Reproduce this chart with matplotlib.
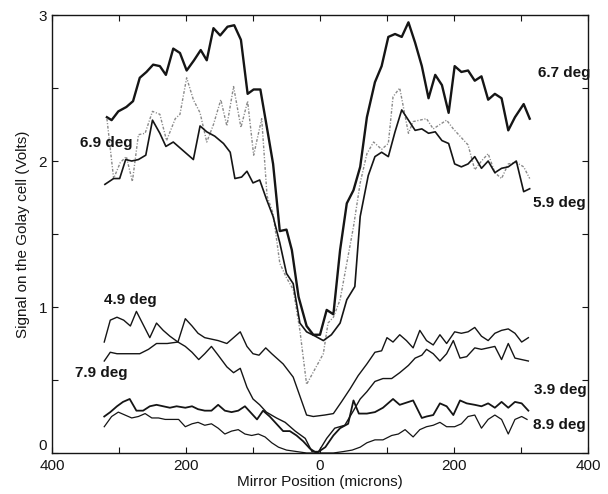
import matplotlib
matplotlib.use("Agg")
import matplotlib.pyplot as plt

plt.rcParams['font.family'] = ['Liberation Sans', 'DejaVu Sans']

# 6.7 deg (thick solid, top)
x_67 = [-318, -311, -301, -289, -279, -269, -259, -249, -239, -230, -219, -209, -199, -188,
        -178, -169, -159, -149, -138, -128, -118, -108, -99, -89, -77, -70, -60, -50, -42,
        -32, -20, -10, 0, 10, 20, 30, 40, 50, 60, 70, 82, 92, 102, 112, 122, 132, 142, 152,
        162, 172, 182, 192, 201, 211, 221, 231, 241, 251, 261, 271, 281, 291, 304, 313]
y_67 = [2.30, 2.28, 2.34, 2.37, 2.41, 2.57, 2.61, 2.66, 2.65, 2.59, 2.77, 2.74, 2.62, 2.69,
        2.76, 2.69, 2.91, 2.86, 2.92, 2.93, 2.83, 2.46, 2.49, 2.49, 2.17, 1.98, 1.52, 1.53, 1.39,
        1.07, 0.87, 0.81, 0.81, 0.98, 0.95, 1.39, 1.71, 1.80, 1.96, 2.30, 2.54, 2.65, 2.85, 2.87,
        2.85, 2.95, 2.81, 2.65, 2.43, 2.59, 2.52, 2.33, 2.65, 2.61, 2.62, 2.55, 2.58, 2.42, 2.46,
        2.43, 2.21, 2.30, 2.39, 2.29]

# 6.9 deg (grey dotted)
x_69 = [-318, -308, -298, -289, -280, -271, -261, -250, -239, -229, -216, -209, -199, -189,
        -179, -169, -159, -148, -139, -129, -118, -108, -99, -87, -79, -70, -60, -50, -40,
        -30, -20, 5, 12, 20, 30, 40, 50, 60, 70, 80, 92, 102, 109, 119, 132, 139, 149, 159,
        169, 179, 189, 199, 209, 221, 231, 241, 251, 261, 271, 281, 293, 304, 313]
y_69 = [2.29, 1.88, 1.99, 2.03, 1.86, 2.18, 2.19, 2.34, 2.32, 2.14, 2.29, 2.32, 2.57, 2.42,
        2.33, 2.13, 2.25, 2.42, 2.24, 2.51, 2.23, 2.41, 2.04, 2.29, 1.76, 1.64, 1.30, 1.20, 1.12,
        0.84, 0.47, 0.68, 0.89, 0.93, 1.05, 1.30, 1.55, 1.85, 2.05, 2.13, 2.08, 2.12, 2.44, 2.50,
        2.19, 2.27, 2.28, 2.29, 2.22, 2.25, 2.28, 2.22, 2.17, 2.11, 1.94, 2.00, 2.05, 1.92, 1.88,
        1.98, 1.99, 1.96, 1.88]

# 5.9 deg
x_59 = [-321, -308, -299, -290, -281, -271, -260, -250, -239, -230, -219, -209, -199, -189,
        -179, -169, -157, -144, -134, -127, -117, -109, -100, -90, -80, -70, -60, -50, -40,
        -30, -20, -7, 5, 17, 30, 40, 52, 60, 72, 82, 92, 102, 112, 122, 132, 142, 152, 162,
        172, 182, 192, 201, 211, 221, 231, 241, 251, 261, 271, 281, 293, 304, 313]
y_59 = [1.84, 1.88, 1.88, 2.01, 2.00, 2.01, 2.04, 2.28, 2.19, 2.10, 2.13, 2.09, 2.05, 2.01,
        2.24, 2.20, 2.17, 2.12, 2.06, 1.88, 1.89, 1.93, 1.85, 1.87, 1.74, 1.62, 1.44, 1.23, 1.16,
        0.89, 0.83, 0.80, 0.77, 0.81, 0.89, 1.05, 1.14, 1.62, 1.90, 2.03, 2.06, 2.03, 2.20, 2.35,
        2.28, 2.21, 2.22, 2.19, 2.20, 2.14, 2.12, 1.98, 1.96, 1.98, 2.03, 1.95, 2.00, 1.92, 1.95,
        1.96, 2.00, 1.79, 1.81]

# 4.9 deg
x_49 = [-322, -313, -303, -293, -283, -274, -264, -254, -244, -234, -224, -212, -201, -191,
        -182, -172, -162, -152, -139, -129, -119, -109, -100, -91, -81, -72, -55, -40, -30,
        -20, -10, 7, 20, 32, 45, 57, 70, 82, 92, 100, 109, 119, 129, 139, 149, 159, 169, 179,
        189, 201, 211, 221, 231, 241, 251, 261, 271, 281, 291, 301, 311]
y_49 = [0.76, 0.91, 0.93, 0.91, 0.87, 0.97, 0.88, 0.79, 0.89, 0.84, 0.80, 0.76, 0.92, 0.87,
        0.82, 0.79, 0.78, 0.77, 0.75, 0.79, 0.83, 0.73, 0.68, 0.67, 0.72, 0.68, 0.61, 0.52, 0.39,
        0.26, 0.25, 0.26, 0.27, 0.35, 0.44, 0.53, 0.61, 0.69, 0.70, 0.79, 0.76, 0.81, 0.77, 0.72,
        0.84, 0.77, 0.74, 0.81, 0.75, 0.83, 0.82, 0.83, 0.86, 0.80, 0.77, 0.82, 0.84, 0.85, 0.82,
        0.76, 0.79]

# 7.9 deg
x_79 = [-322, -313, -303, -290, -280, -269, -256, -244, -228, -212, -201, -191, -181, -172,
        -162, -152, -139, -129, -119, -109, -100, -90, -80, -65, -52, -37, -22, -12, -2, 10,
        22, 37, 50, 60, 70, 82, 94, 107, 119, 132, 142, 152, 159, 169, 179, 189, 199, 209,
        219, 231, 241, 251, 261, 271, 281, 291, 301, 311]
y_79 = [0.63, 0.69, 0.68, 0.68, 0.68, 0.68, 0.71, 0.75, 0.75, 0.76, 0.73, 0.69, 0.64, 0.68,
        0.73, 0.67, 0.59, 0.55, 0.58, 0.45, 0.37, 0.33, 0.28, 0.24, 0.21, 0.15, 0.10, 0.01, 0.01,
        0.10, 0.17, 0.19, 0.29, 0.37, 0.42, 0.49, 0.51, 0.51, 0.55, 0.60, 0.65, 0.67, 0.71, 0.68,
        0.63, 0.68, 0.77, 0.65, 0.66, 0.72, 0.71, 0.72, 0.73, 0.64, 0.75, 0.65, 0.64, 0.63]

# 3.9 deg
x_39 = [-322, -313, -303, -294, -284, -274, -264, -254, -244, -234, -224, -214, -201, -191,
        -182, -172, -162, -152, -142, -132, -122, -112, -102, -94, -85, -75, -65, -55, -45,
        -35, -25, -15, -5, 8, 20, 30, 42, 50, 58, 70, 82, 94, 109, 119, 139, 152, 159, 169,
        179, 189, 199, 209, 219, 231, 241, 251, 261, 271, 281, 291, 301, 311]
y_39 = [0.25, 0.28, 0.32, 0.35, 0.37, 0.29, 0.29, 0.32, 0.33, 0.32, 0.31, 0.32, 0.31, 0.32,
        0.30, 0.29, 0.29, 0.33, 0.29, 0.28, 0.29, 0.32, 0.27, 0.23, 0.29, 0.25, 0.20, 0.15, 0.15,
        0.12, 0.08, 0.03, 0.00, 0.04, 0.12, 0.17, 0.20, 0.36, 0.27, 0.27, 0.28, 0.31, 0.37, 0.33,
        0.36, 0.24, 0.25, 0.26, 0.34, 0.32, 0.26, 0.36, 0.34, 0.33, 0.32, 0.34, 0.31, 0.35, 0.31,
        0.35, 0.34, 0.29]

# 8.9 deg
x_89 = [-322, -311, -301, -291, -281, -271, -261, -251, -241, -231, -221, -211, -201, -191,
        -182, -172, -162, -152, -142, -132, -122, -112, -102, -92, -82, -72, -62, -50, -35,
        -20, 0, 20, 35, 48, 60, 70, 82, 94, 107, 117, 127, 139, 149, 159, 169, 179, 189, 201,
        211, 221, 231, 241, 251, 261, 271, 281, 291, 301, 309]
y_89 = [0.18, 0.25, 0.28, 0.26, 0.24, 0.25, 0.27, 0.24, 0.24, 0.23, 0.23, 0.23, 0.18, 0.20,
        0.21, 0.19, 0.20, 0.17, 0.13, 0.15, 0.16, 0.13, 0.12, 0.13, 0.11, 0.07, 0.04, 0.02, 0.01,
        0.00, 0.00, 0.00, 0.01, 0.02, 0.04, 0.07, 0.09, 0.09, 0.12, 0.13, 0.16, 0.11, 0.16, 0.18,
        0.19, 0.21, 0.18, 0.18, 0.20, 0.25, 0.26, 0.17, 0.23, 0.26, 0.23, 0.13, 0.23, 0.25, 0.23]

fig = plt.figure(figsize=(6.08, 4.94), dpi=100)
ax = fig.add_axes([0.0855, 0.083, 0.8816, 0.8866])

ink = '#151515'
ax.plot(x_67, y_67, color=ink, lw=1.7)
ax.plot(x_69, y_69, color='#8a8a8a', lw=1.0, ls=(0, (2, 1.2, 0.8, 1.2)))
ax.plot(x_59, y_59, color=ink, lw=1.2)
ax.plot(x_49, y_49, color=ink, lw=1.0)
ax.plot(x_79, y_79, color=ink, lw=1.0)
ax.plot(x_39, y_39, color=ink, lw=1.3)
ax.plot(x_89, y_89, color=ink, lw=0.9)

lbl = dict(fontsize=11, fontweight='bold', color=ink, va='center')
ax.text(325, 2.60, '6.7 deg', ha='left', **lbl)
ax.text(-358, 2.12, '6.9 deg', ha='left', **lbl)
ax.text(318, 1.71, '5.9 deg', ha='left', **lbl)
ax.text(-322, 1.05, '4.9 deg', ha='left', **lbl)
ax.text(-366, 0.55, '7.9 deg', ha='left', **lbl)
ax.text(320, 0.43, '3.9 deg', ha='left', **lbl)
ax.text(318, 0.19, '8.9 deg', ha='left', **lbl)

ax.set_xlim(-400, 400)
ax.set_ylim(0, 3)
ax.set_xticks(range(-400, 401, 100))
ax.set_xticklabels(['400', '', '200', '', '0', '', '200', '', '400'])
ax.set_yticks([0, 0.5, 1, 1.5, 2, 2.5, 3])
ax.set_yticklabels(['0', '', '1', '', '2', '', '3'])
ax.tick_params(direction='in', top=True, right=True, length=4, width=0.8,
               labelsize=11, colors=ink)
ax.tick_params(axis='x', pad=4)
# the "0" on the y axis sits just above the corner, clear of the x label
ax.get_yticklabels()[0].set_va('bottom')
for s in ax.spines.values():
    s.set_linewidth(1.0)
    s.set_color(ink)

ax.set_xlabel('Mirror Position (microns)', fontsize=11, color=ink, labelpad=2)
ax.set_ylabel('Signal on the Golay cell (Volts)', fontsize=11, color=ink, labelpad=6)

fig.savefig('out.png', dpi=100)
